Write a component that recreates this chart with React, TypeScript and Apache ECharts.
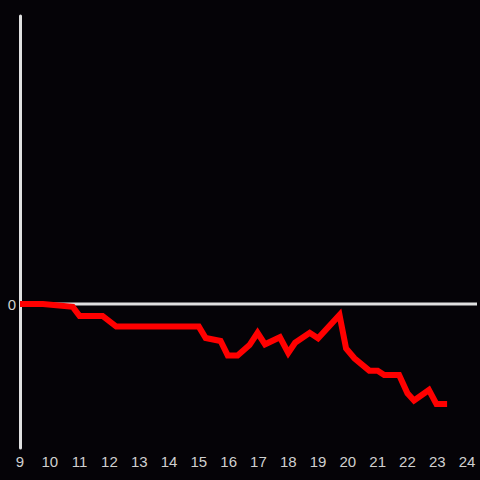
import React, { useEffect, useRef } from "react";
import * as echarts from "echarts";

const xValues = [9.0, 9.77, 10.77, 11.0, 11.77, 12.23, 15.0, 15.23, 15.73, 15.97, 16.3, 16.7, 16.97, 17.22, 17.72, 18.0, 18.23, 18.72, 19.0, 19.72, 19.94, 20.22, 20.72, 21.0, 21.22, 21.72, 22.0, 22.22, 22.72, 22.97, 23.33];
const yValues = [0, 0, -0.02, -0.083, -0.083, -0.157, -0.157, -0.236, -0.257, -0.357, -0.357, -0.285, -0.2, -0.28, -0.231, -0.34, -0.269, -0.2, -0.238, -0.076, -0.308, -0.377, -0.463, -0.463, -0.493, -0.493, -0.62, -0.67, -0.597, -0.694, -0.694];
const zeroLineX = [9, 24.333];
const zeroLineY = [0, 0];

export default function App() {
  const ref = useRef<HTMLDivElement>(null);
  useEffect(() => {
    const chart = echarts.init(ref.current!, null, { renderer: "svg" });
    chart.setOption({
      animation: false,
      backgroundColor: "#050307",
      grid: { left: 20, right: 0, top: 16, bottom: 32 },
      xAxis: {
        type: "value",
        min: 9,
        max: 24.333,
        interval: 1,
        axisLine: { show: false },
        axisTick: { show: false },
        splitLine: { show: false },
        axisLabel: {
          color: "#d0d0d0",
          fontSize: 15,
          fontFamily: "Liberation Sans",
          margin: 6,
          formatter: (v: number) => (Math.abs(v - Math.round(v)) < 1e-6 ? String(Math.round(v)) : ""),
        },
      },
      yAxis: {
        type: "value",
        min: -1,
        max: 2,
        interval: 1,
        axisLine: { show: true, lineStyle: { color: "#e0e0e0", width: 3 } },
        axisTick: { show: false },
        splitLine: { show: false },
        axisLabel: {
          color: "#d0d0d0",
          fontSize: 15,
          fontFamily: "Liberation Sans",
          margin: 4,
          formatter: (v: number) => (v === 0 ? "0" : ""),
        },
      },
      series: [
        {
          type: "line",
          data: zeroLineX.map((x, i) => [x, zeroLineY[i]]),
          symbol: "none",
          lineStyle: { color: "#e0e0e0", width: 3 },
          z: 1,
          silent: true,
        },
        {
          type: "line",
          data: xValues.map((x, i) => [x, yValues[i]]),
          symbol: "none",
          lineStyle: { color: "#ff0000", width: 6, join: "miter" },
          z: 3,
        },
      ],
    });
    return () => chart.dispose();
  }, []);
  return <div ref={ref} style={{ width: 480, height: 480, position: "absolute", left: 0, top: 0 }} />;
}
